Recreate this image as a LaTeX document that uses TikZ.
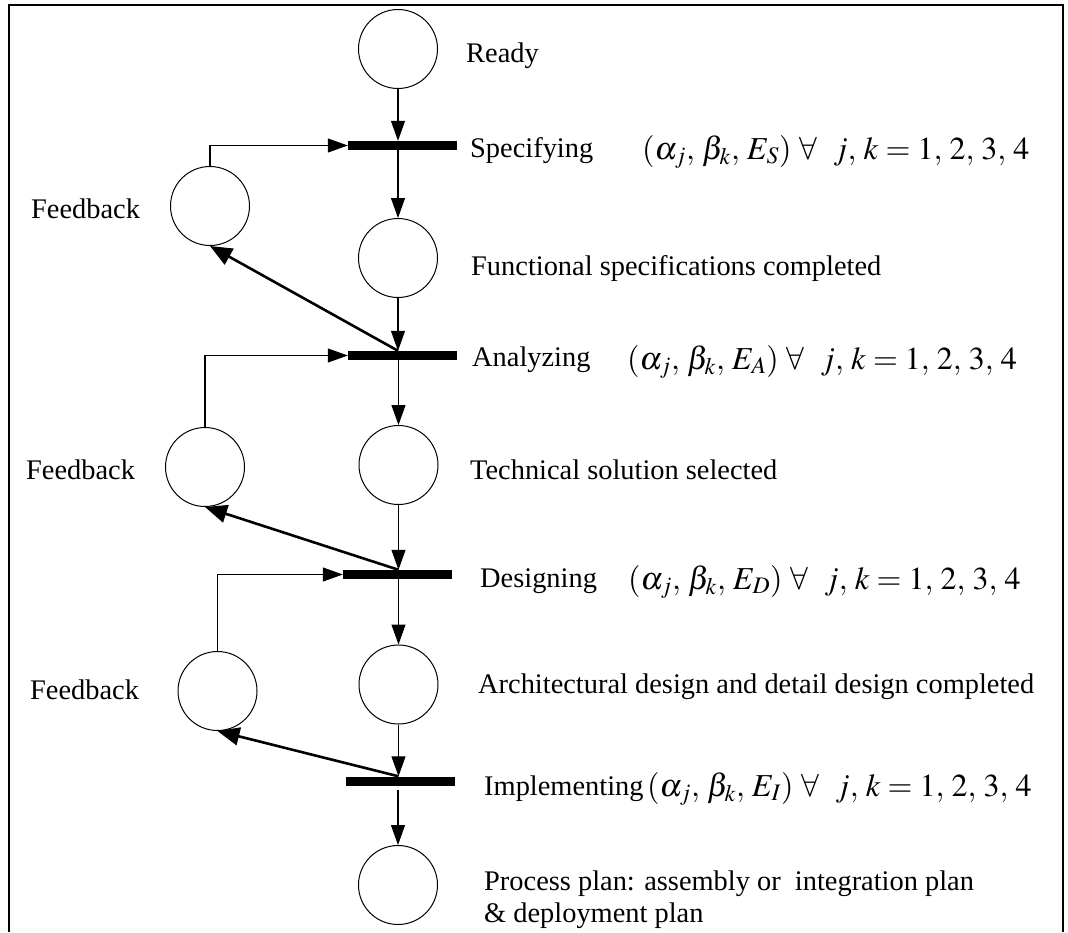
\documentclass[tikz,border=0pt]{standalone}
\usepackage{mathptmx}
\usepackage[no-math]{fontspec}
\setmainfont{Liberation Serif}
\usetikzlibrary{arrows.meta}
\newcommand{\firecond}[1]{$(\alpha_{j},\,\beta_{k},\,E_{#1})\ \forall\ \ j,\,k=1,\,2,\,3,\,4$}
\begin{document}
\begin{tikzpicture}[x=1pt,y=-1pt,
  place/.style={draw,circle,line width=1pt,minimum size=79pt,inner sep=0pt},
  trans/.style={fill=black,draw=none,minimum width=109pt,minimum height=9pt,inner sep=0pt},
  flow/.style={line width=1.1pt,-{Triangle[length=20pt,width=14pt]}},
  back/.style={line width=2.6pt,-{Triangle[length=22pt,width=18pt]}},
  lbl/.style={anchor=base west,inner sep=0pt,align=left,font=\fontsize{28.4}{32}\selectfont},
  eq/.style={anchor=base west,inner sep=0pt,font=\fontsize{32}{38}\selectfont},
  frame/.style={line width=2.7pt}]
\useasboundingbox (0,0) rectangle (1068,932);
% outer frame (open at the bottom)
\draw[frame] (9,932) -- (9,5) -- (1063,5) -- (1063,932);

% places of the main flow
\node[place] (ready) at (398,49) {};
\node[place] (m1) at (398,258) {};
\node[place] (m2) at (398.5,465) {};
\node[place] (m3) at (398.5,684.5) {};
\node[place] (m4) at (398,885) {};
% feedback places
\node[place] (f1) at (210,206) {};
\node[place] (f2) at (205,467) {};
\node[place] (f3) at (217.5,691) {};
% transitions
\node[trans] (t1) at (402.5,145.5) {};
\node[trans] (t2) at (402.5,355.5) {};
\node[trans] (t3) at (397.5,574.5) {};
\node[trans] (t4) at (400.5,781) {};

% main flow arcs
\draw[flow] (ready.south) -- (ready.south |- t1.north);
\draw[flow] (m1.north |- t1.south) -- (m1.north);
\draw[flow] (m1.south) -- (m1.south |- t2.north);
\draw[flow] (m2.north |- t2.south) -- (m2.north);
\draw[flow] (m2.south) -- (m2.south |- t3.north);
\draw[flow] (m3.north |- t3.south) -- (m3.north);
\draw[flow] (m3.south) -- (m3.south |- t4.north);
\draw[flow] ([yshift=-4pt]m4.north |- t4.south) -- (m4.north);

% feedback arcs
\draw[flow] (f1.north) |- (t1.west);
\draw[flow] (f2.north) |- (t2.west);
\draw[flow] (f3.north) |- (t3.west);
\draw[back] (m1.south |- t2.north) -- (f1.south);
\draw[back] (m2.south |- t3.north) -- (f2.south);
\draw[back] (m3.south |- t4.north) -- (f3.south);

% labels
\node[lbl] (lready) at (466,62) {Ready};
\node[lbl] (lspec) at (470,157) {Specifying};
\node[lbl] (lfun) at (471,275) {Functional specifications completed};
\node[lbl] (lana) at (472,366) {Analyzing};
\node[lbl] (ltech) at (470,479) {Technical solution selected};
\node[lbl] (ldes) at (480,587) {Designing};
\node[lbl] (larch) at (478,693) {Architectural design and detail design completed};
\node[lbl] (limp) at (484,795) {Implementing};
\node[lbl] (lproc) at (484,922) {Process plan: assembly or~ integration plan\\\& deployment plan};
\node[lbl] (lfb1) at (31,218) {Feedback};
\node[lbl] (lfb2) at (26,479) {Feedback};
\node[lbl] (lfb3) at (30,699) {Feedback};

% transition conditions
\node[eq] (es) at (642,159) {\firecond{S}};
\node[eq] (ea) at (627,369) {\firecond{A}};
\node[eq] (ed) at (628,589) {\firecond{D}};
\node[eq] (ei) at (647,796) {\firecond{I}};
\end{tikzpicture}
\end{document}
